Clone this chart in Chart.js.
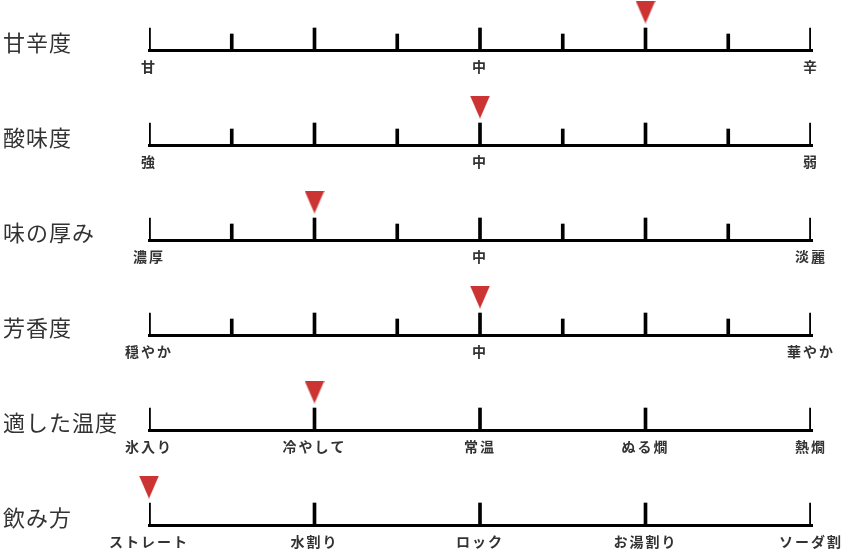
<!DOCTYPE html>
<html><head><meta charset="utf-8">
<script src="https://cdn.jsdelivr.net/npm/chart.js@4"></script>
<style>
html,body{margin:0;padding:0;background:#fff;width:850px;height:560px;overflow:hidden;}
.row{position:absolute;left:0;width:850px;height:95px;}
.row canvas{position:absolute;left:0;top:0;}
.lbl{position:absolute;left:3px;top:26px;font-family:"Noto Sans CJK JP";font-size:22px;line-height:30px;color:#333;letter-spacing:1px;white-space:nowrap;}
</style></head><body>
<div id="wrap"></div>
<script>
// ---- data ----
const rowLabels = ['甘辛度','酸味度','味の厚み','芳香度','適した温度','飲み方'];
const ticks1 = ['甘','','','','中','','','','辛'];
const ticks2 = ['強','','','','中','','','','弱'];
const ticks3 = ['濃厚','','','','中','','','','淡麗'];
const ticks4 = ['穏やか','','','','中','','','','華やか'];
const ticks5 = ['氷入り','冷やして','常温','ぬる燗','熱燗'];
const ticks6 = ['ストレート','水割り','ロック','お湯割り','ソーダ割'];
const tickLabels = [ticks1, ticks2, ticks3, ticks4, ticks5, ticks6];
const majorFine = [1,0,1,0,1,0,1,0,1];
const majorCoarse = [1,1,1,1,1];
const tickMajor = [majorFine, majorFine, majorFine, majorFine, majorCoarse, majorCoarse];
const markerValues = [6,4,2,4,1,0];

// ---- styles ----
const ROW_H = 95, AXIS_H = 45, TALL = 22, SHORT = 16, MARK_Y = 38;
const tri = document.createElement('canvas');
tri.width = 20; tri.height = 23;
(function(){const c = tri.getContext('2d'); c.fillStyle = '#cc3333'; c.beginPath(); c.moveTo(0,0); c.lineTo(20,0); c.lineTo(10,23); c.closePath(); c.fill();})();

const spacingPlugin = {id:'spacing', beforeDraw(chart){ chart.ctx.letterSpacing = '2px'; }};

const wrap = document.getElementById('wrap');
rowLabels.forEach((name, i) => {
  const row = document.createElement('div');
  row.className = 'row'; row.style.top = (ROW_H * i) + 'px';
  const cv = document.createElement('canvas'); cv.width = 850; cv.height = ROW_H;
  const lb = document.createElement('div'); lb.className = 'lbl'; lb.textContent = name;
  row.appendChild(cv); row.appendChild(lb); wrap.appendChild(row);
  const labels = tickLabels[i];
  const majors = tickMajor[i];
  const n = labels.length - 1;
  new Chart(cv, {
    type: 'bar',
    data: {
      datasets: [
        {type:'bar', data: majors.map((m, k) => ({x: k, y: [0, m ? TALL : SHORT]})),
         backgroundColor:'#000', barThickness:3, grouped:false, borderWidth:0},
        {type:'line', showLine:false, clip:false, data:[{x: markerValues[i], y: MARK_Y}],
         pointStyle: tri, pointRadius: 10}
      ]
    },
    options: {
      responsive:false, animation:false, devicePixelRatio:1,
      layout:{autoPadding:false, padding:{left:149, right:39, top:0, bottom:0}},
      plugins:{legend:{display:false}, tooltip:{enabled:false}},
      scales:{
        x:{type:'linear', min:0, max:n, offset:false, position:'bottom',
           grid:{offset:false, drawOnChartArea:false, drawTicks:false, color:'rgba(0,0,0,0)', lineWidth:3},
           border:{display:true, color:'#000', width:3},
           afterFit:(s)=>{ s.height = AXIS_H; },
           ticks:{stepSize:1, autoSkip:false, maxRotation:0, minRotation:0, padding:8,
                  color:'#333', font:{family:'"Noto Sans CJK JP"', size:14, weight:'bold'},
                  callback:(v, k)=> labels[k]}},
        y:{display:false, min:0, max:50}
      }
    },
    plugins:[spacingPlugin]
  });
});
</script>
</body></html>
